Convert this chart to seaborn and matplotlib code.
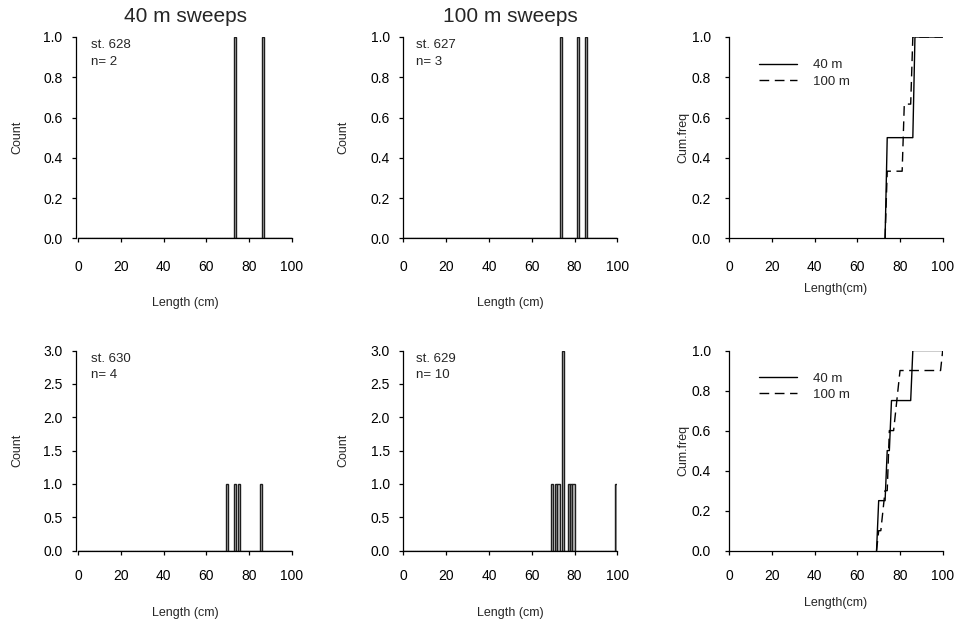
import numpy as np
import pandas as pd
import matplotlib
matplotlib.use("Agg")
import matplotlib.pyplot as plt
import seaborn as sns

# Fish lengths (cm) recorded at each station
st628_40m = [73, 86]
st627_100m = [73, 81, 85]
st630_40m = [69, 73, 75, 85]
st629_100m = [69, 71, 72, 74, 74, 74, 77, 78, 79, 99]

rows = [
    {"h40": ("628", st628_40m), "h100": ("627", st627_100m), "ymax": 1.0, "ystep": 0.2},
    {"h40": ("630", st630_40m), "h100": ("629", st629_100m), "ymax": 3.0, "ystep": 0.5},
]

length_ticks = [0, 20, 40, 60, 80, 100]
edges = np.arange(0, 101, 1)

sns.set_style("ticks")
plt.rcParams["font.family"] = ["Liberation Sans", "DejaVu Sans"]
plt.rcParams["font.size"] = 10
plt.rcParams["xtick.major.size"] = 3
plt.rcParams["ytick.major.size"] = 3
plt.rcParams["xtick.major.width"] = 0.9
plt.rcParams["ytick.major.width"] = 0.9
plt.rcParams["axes.linewidth"] = 0.9
plt.rcParams["axes.edgecolor"] = "black"
plt.rcParams["xtick.color"] = "black"
plt.rcParams["ytick.color"] = "black"

W, H = 961, 630
fig = plt.figure(figsize=(W / 100, H / 100), dpi=100)


def fx(px):
    return px / W


def fy(py):
    return 1 - py / H


# pixel layout of the grid: (left, right) of the data range, (top, bottom)
cols_px = [(78.3, 291.7), (403.3, 617.3), (729.3, 942.7)]
rows_px = [(37.0, 238.3), (350.5, 550.7)]
xpad_row = [12.5, 10.5]
ypad_col = [6.5, 6.5, 10.0]
ylab_x = [17, 343, 683]
xlab_y = [(303, 289), (613, 603)]


def cumfreq(lengths):
    arr = np.asarray(lengths)
    return np.array([(arr < e).sum() for e in edges]) / len(arr)


def make_axes(col, row, pad_left=0.0):
    x0, x1 = cols_px[col]
    y0, y1 = rows_px[row]
    ppc = (x1 - x0) / 100.0
    left = x0 - pad_left * ppc
    ax = fig.add_axes([fx(left), fy(y1), fx(x1 - left), (y1 - y0) / H])
    ax.set_xlim(-pad_left, 100)
    return ax


def style_axes(ax, ymax, ystep, row, col):
    sns.despine(ax=ax)
    ax.spines["bottom"].set_bounds(0, 100)
    ax.set_ylim(0, ymax)
    ax.set_xticks(length_ticks)
    ax.set_yticks(np.arange(0, ymax + 1e-9, ystep))
    ax.yaxis.set_major_formatter(matplotlib.ticker.FormatStrFormatter("%.1f"))
    ax.tick_params(axis="x", labelsize=10, pad=xpad_row[row])
    ax.tick_params(axis="y", labelsize=10, pad=ypad_col[col])


def place_labels(ax, xlabel, ylabel, row, col, xlabel_y):
    y0, y1 = rows_px[row]
    ax.set_xlabel(xlabel, fontsize=9)
    ax.set_ylabel(ylabel, fontsize=9)
    ax.xaxis.set_label_coords(fx(sum(cols_px[col]) / 2), fy(xlabel_y),
                              transform=fig.transFigure)
    ax.yaxis.set_label_coords(fx(ylab_x[col]), fy((y0 + y1) / 2),
                              transform=fig.transFigure)
    ax.xaxis.label.set_va("center")
    ax.yaxis.label.set_va("center")


for r, spec in enumerate(rows):
    y0, y1 = rows_px[r]

    for c, key in enumerate(["h40", "h100"]):
        station, lengths = spec[key]
        ax = make_axes(c, r, pad_left=1.2 if c == 0 else 0.0)
        sns.histplot(x=lengths, bins=edges, ax=ax, color="#c4c4c4",
                     edgecolor="#1e1e1e", linewidth=1.0, alpha=1.0)
        style_axes(ax, spec["ymax"], spec["ystep"], r, c)
        place_labels(ax, "Length (cm)", "Count", r, c, xlab_y[r][0])
        tx = fx(cols_px[c][0] + 13)
        fig.text(tx, fy(y0 + 8), f"st. {station}", fontsize=9.5, va="center")
        fig.text(tx, fy(y0 + 25), f"n= {len(lengths)}", fontsize=9.5, va="center")
        if r == 0:
            fig.text(fx(sum(cols_px[c]) / 2), fy(16),
                     "40 m sweeps" if c == 0 else "100 m sweeps",
                     fontsize=15, ha="center", va="center")

    # cumulative frequency of both sweep depths, from the smallest fish on
    ax = make_axes(2, r)
    parts = []
    for depth, (_, lengths) in [("40 m", spec["h40"]), ("100 m", spec["h100"])]:
        keep = edges >= min(lengths)
        parts.append(pd.DataFrame({"length": edges[keep],
                                   "cum": cumfreq(lengths)[keep],
                                   "depth": depth}))
    cum_df = pd.concat(parts)
    sns.lineplot(data=cum_df, x="length", y="cum", style="depth",
                 style_order=["40 m", "100 m"],
                 dashes={"40 m": "", "100 m": (7, 4)},
                 color="black", linewidth=1.0, ax=ax)
    style_axes(ax, 1.0, 0.2, r, 2)
    place_labels(ax, "Length(cm)", "Cum.freq", r, 2, xlab_y[r][1])
    ax.legend(loc="upper left", bbox_to_anchor=(0.14, 0.89), frameon=False,
              borderpad=0, borderaxespad=0, handlelength=2.9,
              handletextpad=1.2, labelspacing=0.3, fontsize=9.5, title=None)

fig.savefig("out.png", dpi=100)
